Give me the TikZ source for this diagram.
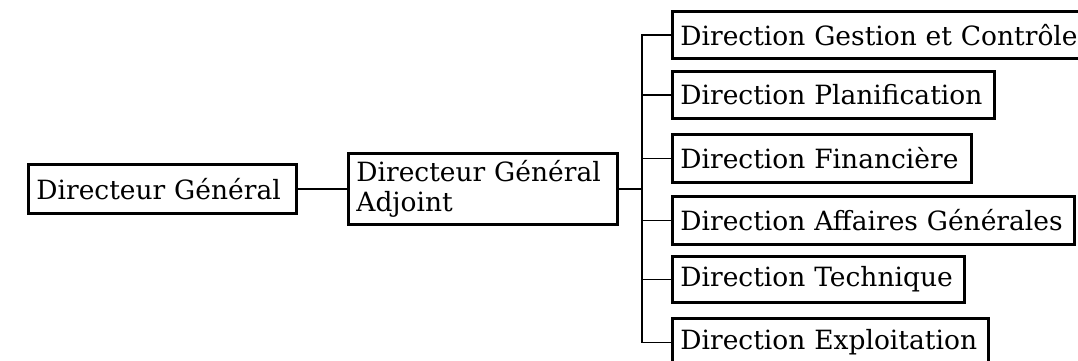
\documentclass[tikz,border=0pt]{standalone}
\usepackage{fontspec}
\setmainfont{DejaVu Serif}
\begin{document}
\begin{tikzpicture}[x=1pt,y=-1pt,
  orgbox/.style={draw, line width=2.8pt, inner xsep=8pt, inner ysep=0pt,
    align=left, anchor=north west, font=\fontsize{26.5}{30}\selectfont},
  link/.style={line width=1.6pt}]
\useasboundingbox (0,0) rectangle (1078,361);
% top of the hierarchy
\node[orgbox, text width=252pt, minimum height=49pt] (dg)  at (27,163)  {Directeur Général};
\node[orgbox, text width=253pt, minimum height=71pt] (dga) at (347,152) {Directeur Général\\Adjoint};
% directions
\node[orgbox, text width=410pt, minimum height=47pt] (d1) at (671,10)  {Direction Gestion et Contrôle};
\node[orgbox, text width=306pt, minimum height=47pt] (d2) at (671,70)  {Direction Planification};
\node[orgbox, text width=283pt, minimum height=48pt] (d3) at (671,133) {Direction Financière};
\node[orgbox, text width=386pt, minimum height=48pt] (d4) at (671,195) {Direction Affaires Générales};
\node[orgbox, text width=276pt, minimum height=46pt] (d5) at (671,255) {Direction Technique};
\node[orgbox, text width=300pt, minimum height=48pt] (d6) at (671,317) {Direction Exploitation};
% connectors
\coordinate (bus) at (642,0);
\draw[link] (dg.east) -- (dga.west);
\draw[link] (dga.east) -- (bus |- dga.east);
\draw[link] (d1.west) -- (bus |- d1.west) -- (bus |- d6.west) -- (d6.west);
\foreach \n in {d2,d3,d4,d5} \draw[link] (bus |- \n.west) -- (\n.west);
\end{tikzpicture}
\end{document}
